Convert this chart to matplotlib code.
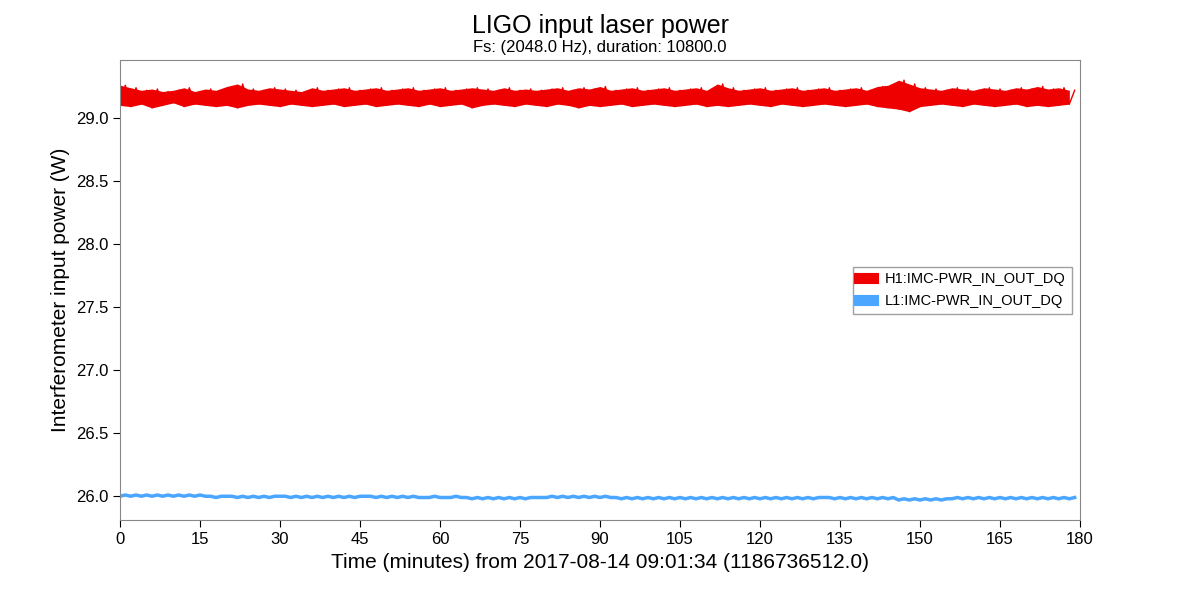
import matplotlib
matplotlib.use("Agg")
import matplotlib.pyplot as plt
from matplotlib.ticker import MultipleLocator

plt.rcParams['font.family'] = ['Liberation Sans', 'DejaVu Sans']

# values, one per minute (alternating low/high edge of the noise band)
minutes = list(range(0, 180))
h1_power = [
    29.10, 29.26, 29.09, 29.24, 29.11, 29.22, 29.08, 29.23, 29.10, 29.21,
    29.12, 29.22, 29.09, 29.24, 29.11, 29.21, 29.10, 29.23, 29.09, 29.22,
    29.10, 29.25, 29.08, 29.27, 29.10, 29.23, 29.11, 29.22, 29.10, 29.24,
    29.09, 29.23, 29.11, 29.22, 29.10, 29.21, 29.09, 29.24, 29.10, 29.22,
    29.11, 29.23, 29.09, 29.24, 29.10, 29.22, 29.11, 29.23, 29.09, 29.24,
    29.10, 29.22, 29.11, 29.23, 29.10, 29.24, 29.09, 29.22, 29.11, 29.23,
    29.09, 29.24, 29.10, 29.22, 29.11, 29.23, 29.08, 29.24, 29.10, 29.23,
    29.11, 29.22, 29.10, 29.24, 29.09, 29.22, 29.11, 29.23, 29.10, 29.22,
    29.09, 29.23, 29.11, 29.24, 29.10, 29.22, 29.08, 29.24, 29.10, 29.23,
    29.09, 29.25, 29.10, 29.22, 29.11, 29.23, 29.09, 29.24, 29.10, 29.22,
    29.11, 29.23, 29.10, 29.24, 29.09, 29.22, 29.10, 29.23, 29.11, 29.24,
    29.09, 29.22, 29.10, 29.27, 29.09, 29.24, 29.10, 29.22, 29.11, 29.23,
    29.10, 29.24, 29.09, 29.22, 29.11, 29.23, 29.10, 29.24, 29.09, 29.22,
    29.10, 29.23, 29.11, 29.24, 29.10, 29.22, 29.09, 29.23, 29.10, 29.24,
    29.11, 29.22, 29.09, 29.25, 29.08, 29.26, 29.07, 29.30, 29.05, 29.27,
    29.09, 29.24, 29.10, 29.23, 29.11, 29.22, 29.10, 29.24, 29.09, 29.23,
    29.11, 29.22, 29.10, 29.24, 29.09, 29.23, 29.10, 29.22, 29.11, 29.24,
    29.09, 29.23, 29.10, 29.25, 29.09, 29.23, 29.10, 29.24, 29.11, 29.22,
]
l1_power = [
    26.00, 26.01, 26.00, 26.01, 26.00, 26.01, 26.00, 26.01, 26.00, 26.01,
    26.00, 26.01, 26.00, 26.01, 26.00, 26.01, 26.00, 26.00, 25.99, 26.00,
    26.00, 26.00, 25.99, 26.00, 25.99, 26.00, 25.99, 26.00, 25.99, 26.00,
    26.00, 26.00, 25.99, 26.00, 25.99, 26.00, 25.99, 26.00, 25.99, 26.00,
    25.99, 26.00, 25.99, 26.00, 25.99, 26.00, 26.00, 26.00, 25.99, 26.00,
    25.99, 26.00, 25.99, 26.00, 25.99, 26.00, 25.99, 25.99, 25.99, 26.00,
    25.99, 25.99, 25.99, 26.00, 25.99, 25.99, 25.98, 25.99, 25.98, 25.99,
    25.98, 25.99, 25.98, 25.99, 25.98, 25.99, 25.98, 25.99, 25.99, 25.99,
    25.99, 26.00, 25.99, 26.00, 25.99, 26.00, 25.99, 26.00, 25.99, 26.00,
    25.99, 26.00, 25.99, 25.99, 25.98, 25.99, 25.98, 25.99, 25.98, 25.99,
    25.98, 25.99, 25.98, 25.99, 25.98, 25.99, 25.98, 25.99, 25.98, 25.99,
    25.98, 25.99, 25.98, 25.99, 25.98, 25.99, 25.98, 25.99, 25.98, 25.99,
    25.98, 25.99, 25.98, 25.99, 25.98, 25.99, 25.98, 25.99, 25.98, 25.99,
    25.98, 25.99, 25.99, 25.99, 25.98, 25.99, 25.98, 25.99, 25.98, 25.99,
    25.98, 25.99, 25.98, 25.99, 25.98, 25.99, 25.97, 25.98, 25.97, 25.98,
    25.97, 25.98, 25.97, 25.98, 25.97, 25.98, 25.98, 25.99, 25.98, 25.99,
    25.98, 25.99, 25.98, 25.99, 25.98, 25.99, 25.98, 25.99, 25.98, 25.99,
    25.98, 25.99, 25.98, 25.99, 25.98, 25.99, 25.98, 25.99, 25.98, 25.99,
]
labels = ['H1:IMC-PWR_IN_OUT_DQ', 'L1:IMC-PWR_IN_OUT_DQ']
colors = ['#ee0000', '#4ba6ff']

fig = plt.figure(figsize=(12, 6), dpi=100)
ax = fig.add_axes([0.10, 0.133, 0.80, 0.767])

# noise band: low edges (even minutes) to high edges (odd minutes)
ax.fill_between(minutes[0::2], h1_power[0::2], h1_power[1::2], color=colors[0], lw=0)
ax.plot(minutes[:len(h1_power)], h1_power, color=colors[0], lw=1.0, label=labels[0])
ax.plot(minutes[:len(l1_power)], l1_power, color=colors[1], lw=2.5, label=labels[1])

ax.set_xlim(0, 180)
ax.set_ylim(25.81, 29.46)
ax.xaxis.set_major_locator(MultipleLocator(15))
ax.yaxis.set_major_locator(MultipleLocator(0.5))
ax.tick_params(direction='out', length=5, labelsize=12)
for s in ax.spines.values():
    s.set_color('#888888')

ax.set_xlabel('Time (minutes) from 2017-08-14 09:01:34 (1186736512.0)', fontsize=15)
ax.set_ylabel('Interferometer input power (W)', fontsize=15)
fig.text(0.5, 0.945, 'LIGO input laser power', ha='center', fontsize=18)
fig.text(0.5, 0.913, 'Fs: (2048.0 Hz), duration: 10800.0', ha='center', fontsize=12)

leg = ax.legend(loc='center right', bbox_to_anchor=(0.999, 0.5), fontsize=10.5,
                fancybox=False, edgecolor='#888888', handlelength=1.0, handleheight=0.7)
for h in leg.legend_handles:
    h.set_linewidth(8)

fig.savefig('out.png', dpi=100)
